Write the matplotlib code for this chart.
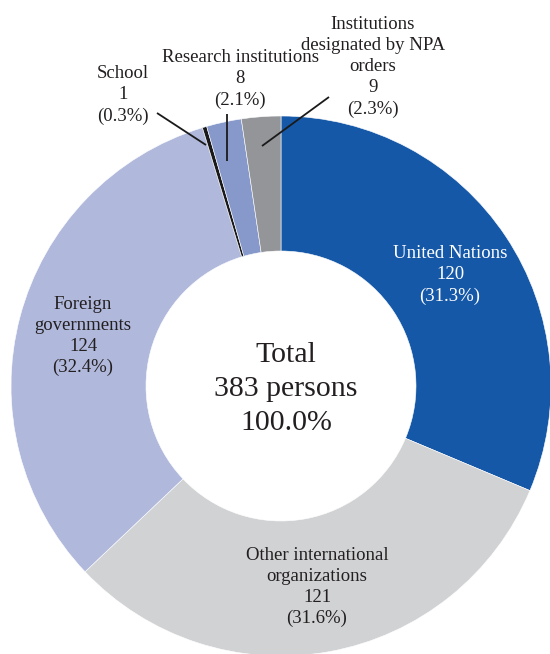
import matplotlib.pyplot as plt

plt.rcParams['font.family'] = ['Liberation Serif', 'DejaVu Serif']

# data, clockwise from the top
categories = ["United Nations", "Other international\norganizations", "Foreign\ngovernments",
              "School", "Research institutions", "Institutions\ndesignated by NPA\norders"]
persons = [120, 121, 124, 1, 8, 9]
shares = ["31.3%", "31.6%", "32.4%", "0.3%", "2.1%", "2.3%"]
colors = ["#1558a8", "#d1d2d4", "#b0b9dc", "#1a1a1a", "#8799cb", "#939598"]
total_persons = 383
total_share = "100.0%"

W, H = 550, 654
fig = plt.figure(figsize=(W / 100, H / 100), dpi=100)
ax = fig.add_axes([0, 0, 1, 1])


def py(y):
    # pixel row (from top) -> data y
    return H - y


cx, cy, R = 281, py(386), 270
ax.pie(persons, colors=colors, startangle=90, counterclock=False,
       center=(cx, cy), radius=R, frame=True,
       wedgeprops=dict(width=R * 0.5, edgecolor="white", linewidth=0.4))
ax.set_xlim(0, W)
ax.set_ylim(0, H)
ax.axis("off")

txt = "#231f20"
fs = 13.5
ls = 1.32

# label positions (pixel coords) and colours
label_pos = [(450, 275, "white"), (317, 587, txt), (83, 336, txt),
             (123, 95, txt), (240, 79, txt), (373, 67, txt)]
for name, n, s, (x, y, c) in zip(categories, persons, shares, label_pos):
    ax.text(x, py(y), f"{name}\n{n}\n({s})", ha="center", va="center",
            fontsize=fs, color=c, linespacing=ls)

# leader lines
leaders = [((157, 113), (206, 145)),   # School
           ((227, 114), (227, 161)),   # Research institutions
           ((329, 97), (262, 146))]    # NPA orders
for (x0, y0), (x1, y1) in leaders:
    ax.plot([x0, x1], [py(y0), py(y1)], color="#1a1a1a", lw=1.3,
            solid_capstyle="butt")

ax.text(286, py(389), f"Total\n{total_persons} persons\n{total_share}",
        ha="center", va="center", fontsize=21.5, color=txt, linespacing=1.4)

fig.savefig("out.png", dpi=100)
